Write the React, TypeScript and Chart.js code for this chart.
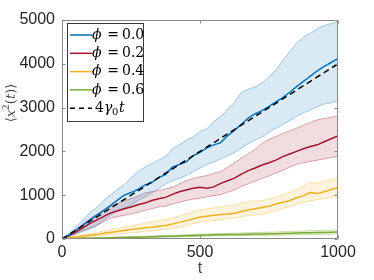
import React, { useEffect, useRef } from 'react';
import { Chart, registerables } from 'chart.js';
Chart.register(...registerables);

const T = [0,25,50,75,100,125,150,175,200,225,250,275,300,325,350,375,400,425,450,475,500,525,550,575,600,625,650,675,700,725,750,775,800,825,850,875,900,925,950,975,1000];

const BLUE_MEAN = [0,90,200,310,430,540,650,760,880,1000,1060,1130,1230,1290,1400,1470,1640,1700,1760,1900,1980,2080,2150,2200,2360,2480,2620,2760,2860,2930,3030,3130,3230,3350,3480,3600,3720,3840,3940,4030,4120];
const BLUE_UPPER = [0,130,280,430,590,720,870,1000,1130,1240,1390,1540,1640,1720,1800,1880,2060,2150,2250,2330,2450,2520,2680,2800,2950,3120,3350,3420,3470,3560,3700,3850,4070,4280,4470,4610,4700,4800,4870,4920,4960];
const BLUE_LOWER = [0,50,110,170,230,300,420,540,640,700,770,880,960,1050,1150,1260,1330,1380,1450,1540,1620,1700,1760,1830,1900,1970,2080,2180,2260,2330,2440,2530,2620,2700,2800,2880,2950,3020,3080,3110,3170];

const RED_MEAN = [0,80,160,250,350,430,510,590,640,690,730,780,820,880,920,950,1020,1080,1120,1160,1180,1160,1190,1270,1330,1390,1480,1560,1620,1690,1740,1800,1880,1940,2000,2060,2110,2150,2220,2290,2350];
const RED_UPPER = [0,100,220,340,460,560,650,740,810,870,920,980,1050,1080,1110,1140,1180,1260,1330,1380,1420,1450,1500,1540,1640,1740,1850,1940,2050,2180,2270,2340,2410,2470,2530,2600,2660,2720,2750,2780,2810];
const RED_LOWER = [0,60,120,190,250,310,390,470,510,540,570,610,650,690,730,750,800,840,880,910,930,960,990,1010,1070,1120,1200,1260,1320,1380,1440,1510,1570,1640,1700,1740,1770,1800,1830,1860,1890];

const YEL_MEAN = [0,25,45,65,85,100,130,150,170,195,215,235,255,270,290,310,340,380,420,460,500,520,540,560,570,590,630,660,690,720,750,800,840,880,940,990,1060,1040,1080,1130,1170];
const YEL_UPPER = [0,35,65,95,125,150,180,210,240,270,300,330,360,390,420,450,480,530,570,620,660,690,710,740,760,780,820,850,870,880,910,960,1010,1060,1130,1220,1290,1270,1320,1360,1400];
const YEL_LOWER = [0,15,25,40,55,65,80,95,110,125,140,155,170,185,200,220,240,270,300,350,390,410,420,440,460,480,510,530,550,570,600,650,690,740,790,830,870,900,920,950,970];

const GRN_MEAN = [0,5,10,15,18,22,25,28,32,35,38,42,45,50,55,60,65,70,75,80,85,90,95,98,100,105,105,110,112,115,118,122,128,130,135,140,145,148,150,155,160];
const GRN_UPPER = [0,8,15,22,27,32,36,40,45,49,53,58,62,68,74,80,86,92,98,104,110,116,122,126,130,136,138,144,148,152,156,160,168,172,178,184,190,194,198,204,210];
const GRN_LOWER = [0,3,6,9,11,13,15,17,20,22,24,27,29,33,37,41,45,49,53,57,61,65,69,71,72,76,76,79,80,82,84,86,90,92,95,98,102,104,106,110,114];

const REF_T = [0, 1000];
const REF_V = [0, 4000];

const PHI_LABELS = ['0.0', '0.2', '0.4', '0.6'];
const X_TICKS = [0, 500, 1000];
const Y_TICKS = [0, 1000, 2000, 3000, 4000, 5000];

const COLORS = [[0, 114, 189], [162, 20, 47], [237, 177, 32], [119, 172, 48]];
const SERIES = [
  [BLUE_LOWER, BLUE_UPPER, BLUE_MEAN],
  [RED_LOWER, RED_UPPER, RED_MEAN],
  [YEL_LOWER, YEL_UPPER, YEL_MEAN],
  [GRN_LOWER, GRN_UPPER, GRN_MEAN],
];

const rgba = (c: number[], a: number) => `rgba(${c[0]},${c[1]},${c[2]},${a})`;
const pts = (xs: number[], ys: number[]) => xs.map((x, i) => ({ x, y: ys[i] }));

const decorPlugin = {
  id: 'decor',
  afterDraw(chart: any) {
    const { ctx, chartArea: a, scales } = chart;
    ctx.save();
    // frame
    ctx.strokeStyle = '#8a8a8a';
    ctx.lineWidth = 1;
    const L = Math.round(a.left) + 0.5, R = Math.round(a.right) - 0.5;
    const Tp = Math.round(a.top) + 0.5, B = Math.round(a.bottom) - 0.5;
    ctx.strokeRect(L, Tp, R - L, B - Tp);
    // inward ticks
    ctx.beginPath();
    for (const v of Y_TICKS) {
      const y = Math.round(scales.y.getPixelForValue(v)) + 0.5;
      ctx.moveTo(L, y); ctx.lineTo(L + 3, y);
      ctx.moveTo(R, y); ctx.lineTo(R - 3, y);
    }
    for (const v of X_TICKS) {
      const x = Math.round(scales.x.getPixelForValue(v)) + 0.5;
      ctx.moveTo(x, B); ctx.lineTo(x, B - 3);
      ctx.moveTo(x, Tp); ctx.lineTo(x, Tp + 3);
    }
    ctx.stroke();

    // legend
    const lx = Math.round(a.left) + 5, ly = Math.round(a.top) + 3;
    const lw = 76, lh = 98;
    ctx.fillStyle = '#ffffff';
    ctx.fillRect(lx, ly, lw, lh);
    ctx.strokeStyle = '#3a3a3a';
    ctx.strokeRect(lx + 0.5, ly + 0.5, lw, lh);
    ctx.textBaseline = 'middle';
    ctx.fillStyle = '#000';
    for (let i = 0; i < 5; i++) {
      const y = ly + 12 + i * 18.3;
      ctx.beginPath();
      ctx.lineWidth = 1.5;
      if (i < 4) {
        ctx.strokeStyle = rgba(COLORS[i], 1);
        ctx.setLineDash([]);
      } else {
        ctx.strokeStyle = '#000';
        ctx.setLineDash([5, 4]);
      }
      ctx.moveTo(lx + 3, y); ctx.lineTo(lx + 25, y);
      ctx.stroke();
      ctx.setLineDash([]);
      if (i < 4) {
        ctx.textAlign = 'left';
        ctx.font = 'italic 14px "DejaVu Serif"';
        ctx.fillText('\u03D5', lx + 25, y);
        ctx.font = '14px "DejaVu Serif"';
        ctx.textAlign = 'center';
        ctx.fillText('=', lx + 46, y);
        ctx.textAlign = 'left';
        ctx.fillText(PHI_LABELS[i], lx + 55, y);
      } else {
        ctx.textAlign = 'left';
        ctx.font = '14px "DejaVu Serif"';
        ctx.fillText('4', lx + 28, y);
        ctx.font = 'italic 14px "DejaVu Serif"';
        ctx.fillText('\u03B3', lx + 37, y);
        ctx.font = '10px "DejaVu Serif"';
        ctx.fillText('0', lx + 45, y + 4);
        ctx.font = 'italic 14px "DejaVu Serif"';
        ctx.fillText('t', lx + 52, y);
      }
    }

    // x label
    ctx.fillStyle = '#4a4a4a';
    ctx.font = '16px "Liberation Sans"';
    ctx.textAlign = 'center';
    ctx.textBaseline = 'middle';
    ctx.fillText('t', (a.left + a.right) / 2, 269);

    // y label
    const parts: [string, string, number][] = [
      ['\u27E8', '13px "DejaVu Serif"', 0],
      ['x', 'italic 13px "DejaVu Serif"', 0],
      ['2', '9px "DejaVu Serif"', -5],
      ['(', '13px "DejaVu Serif"', 0],
      ['t', 'italic 13px "DejaVu Serif"', 0],
      [')', '13px "DejaVu Serif"', 0],
      ['\u27E9', '13px "DejaVu Serif"', 0],
    ];
    let total = 0;
    for (const p of parts) { ctx.font = p[1]; total += ctx.measureText(p[0]).width; }
    ctx.translate(12, 103);
    ctx.rotate(-Math.PI / 2);
    ctx.textAlign = 'left';
    let cx = -total / 2;
    for (const p of parts) {
      ctx.font = p[1];
      ctx.fillText(p[0], cx, p[2]);
      cx += ctx.measureText(p[0]).width;
    }
    ctx.restore();
  },
};

export default function App() {
  const ref = useRef<HTMLCanvasElement | null>(null);
  useEffect(() => {
    if (!ref.current) return;
    const datasets: any[] = [];
    SERIES.forEach((s, i) => {
      const c = COLORS[i];
      datasets.push({
        data: pts(T, s[0]), borderColor: rgba(c, 0.35), borderWidth: 1,
        pointRadius: 0, fill: false, order: 20 + i * 3,
      });
      datasets.push({
        data: pts(T, s[1]), borderColor: rgba(c, 0.35), borderWidth: 1,
        pointRadius: 0, fill: '-1', backgroundColor: rgba(c, 0.15), order: 19 + i * 3,
      });
      datasets.push({
        data: pts(T, s[2]), borderColor: rgba(c, 1), borderWidth: 1.5,
        pointRadius: 0, fill: false, order: 2 + i,
      });
    });
    datasets.push({
      data: pts(REF_T, REF_V), borderColor: '#000', borderWidth: 1.5,
      borderDash: [6, 4], pointRadius: 0, fill: false, order: 0,
    });
    const chart = new Chart(ref.current, {
      type: 'line',
      data: { datasets },
      options: {
        animation: false,
        responsive: false,
        events: [],
        layout: { padding: { top: 20, right: 36, left: 0, bottom: 0 } },
        plugins: { legend: { display: false }, tooltip: { enabled: false } },
        scales: {
          x: {
            type: 'linear', min: 0, max: 1000,
            grid: { display: false, drawTicks: false },
            border: { display: false },
            afterBuildTicks: (s: any) => { s.ticks = X_TICKS.map((v) => ({ value: v })); },
            ticks: { color: '#262626', padding: 4, maxRotation: 0, font: { family: 'Liberation Sans', size: 16 }, callback: (v: any) => String(v) },
            afterFit: (s: any) => { s.height = 41; },
          },
          y: {
            type: 'linear', min: 0, max: 5000,
            grid: { display: false, drawTicks: false },
            border: { display: false },
            afterBuildTicks: (s: any) => { s.ticks = Y_TICKS.map((v) => ({ value: v })); },
            ticks: { color: '#262626', padding: 7, font: { family: 'Liberation Sans', size: 16 }, callback: (v: any) => String(v) },
            afterFit: (s: any) => { s.width = 62; },
          },
        },
      },
      plugins: [decorPlugin],
    });
    return () => chart.destroy();
  }, []);
  return (
    <div style={{ position: 'fixed', left: 0, top: 0, width: 374, height: 280, background: '#fff' }}>
      <canvas ref={ref} width={374} height={280} />
    </div>
  );
}
